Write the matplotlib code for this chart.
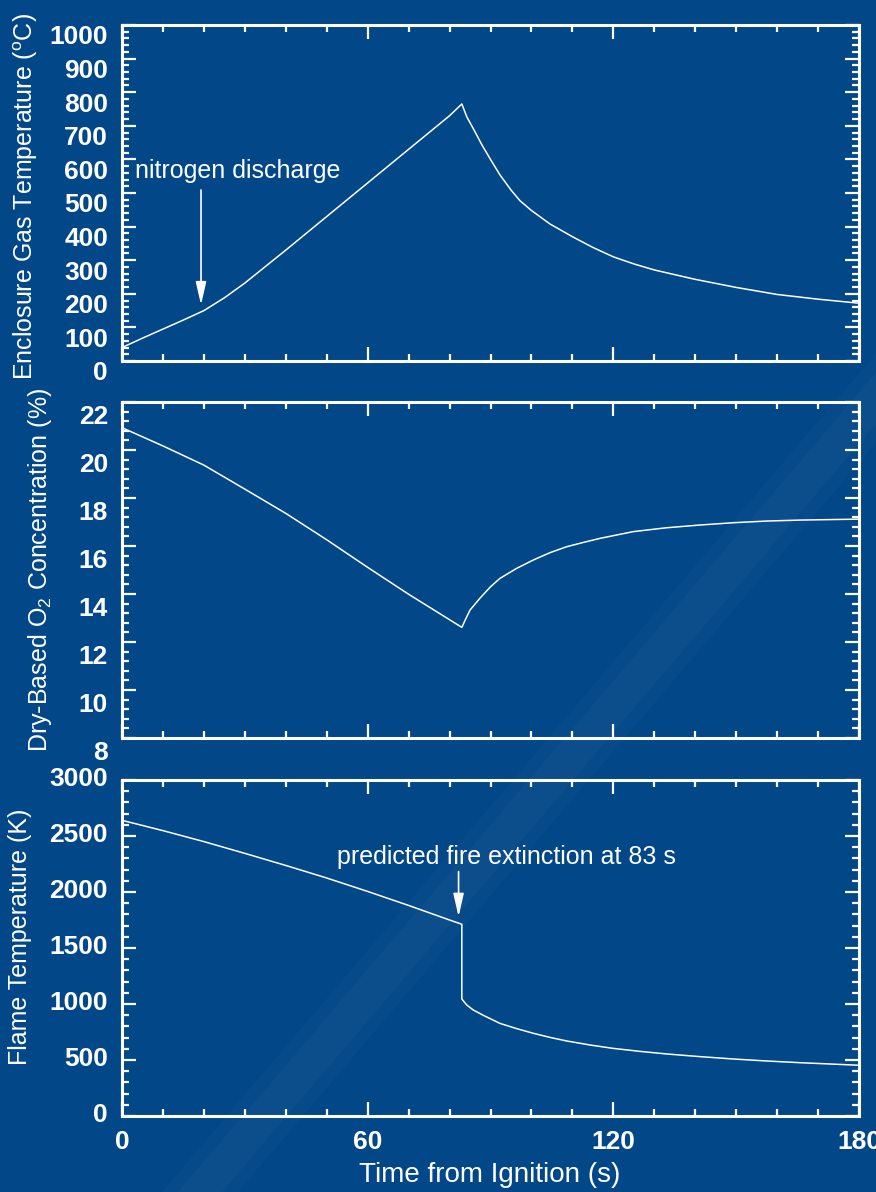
import numpy as np
import matplotlib
matplotlib.use("Agg")
import matplotlib.pyplot as plt
import matplotlib.transforms as mtransforms
from matplotlib.patches import Polygon
from matplotlib.ticker import MultipleLocator

plt.rcParams['font.family'] = ['Liberation Sans', 'DejaVu Sans']
plt.rcParams['mathtext.default'] = 'regular'

# data
gas_t = [0, 5, 10, 15, 20, 25, 30, 40, 50, 60, 70, 80, 83, 84.2, 86, 88, 90,
         92.3, 95, 97.2, 100, 104.5, 110, 115, 120, 125, 130, 140, 150, 160,
         170, 180]
gas_v = [40, 68, 95, 122, 150, 188, 232, 330, 430, 530, 630, 730, 765, 727,
         687, 641, 600, 554, 509, 477, 448, 408, 370, 338, 310, 289, 271, 243,
         219, 198, 184, 172]

o2_t = [0, 10, 20, 30, 40, 50, 60, 70, 83, 84, 85, 87.4, 90, 92.3, 96.4,
        100.5, 104.5, 108.6, 112.7, 116.8, 124.9, 133, 141.2, 149.3, 157.5,
        165.6, 180]
o2_v = [20.93, 20.17, 19.37, 18.37, 17.36, 16.26, 15.11, 13.99, 12.61, 12.98,
        13.33, 13.82, 14.3, 14.65, 15.07, 15.42, 15.72, 15.97, 16.15, 16.32,
        16.6, 16.76, 16.875, 16.97, 17.04, 17.08, 17.12]

flame_t = [0, 10, 20, 30, 40, 50, 60, 70, 80, 83, 83, 84.2, 85.8, 88.3, 92.3,
           96.4, 100.5, 104.5, 108.6, 114.3, 119.9, 126.5, 133, 141.2, 149.3,
           157.5, 165.6, 180]
flame_v = [2640, 2548, 2450, 2345, 2237, 2125, 2005, 1880, 1750, 1712, 1045,
           991, 946, 898, 827, 780, 738, 702, 670, 634, 604, 577, 554, 530,
           509, 491, 476, 453]

x_ticks = [0, 60, 120, 180]
gas_ticks = list(range(0, 1001, 100))
o2_ticks = list(range(8, 23, 2))
flame_ticks = list(range(0, 3001, 500))

bg = '#024787'
W, H = 876, 1192

fig = plt.figure(figsize=(W / 100, H / 100), dpi=100, facecolor=bg)


def px(x, y):
    return x / W, 1 - y / H


# faint diagonal band in the background
for half, a in [(38, 0.02), (22, 0.025)]:
    pts = [px(200 - half, 1192), px(200 + half, 1192),
           px(1215 + half, 0), px(1215 - half, 0)]
    fig.patches.append(Polygon(pts, closed=True, transform=fig.transFigure,
                               facecolor='white', alpha=a, edgecolor='none',
                               zorder=0))

left, right = 122, 859
panels = [(25, 361), (402, 738), (780, 1116)]
axes = []
for top, bot in panels:
    ax = fig.add_axes([left / W, 1 - bot / H, (right - left) / W, (bot - top) / H])
    ax.set_facecolor('none')
    for s in ax.spines.values():
        s.set_color('white')
        s.set_linewidth(2.2)
    ax.set_xlim(0, 180)
    ax.set_xticks(x_ticks)
    ax.xaxis.set_minor_locator(MultipleLocator(10))
    ax.tick_params(which='both', direction='in', top=True, right=True,
                   colors='white', labelcolor='white', labelsize=19)
    ax.tick_params(which='major', length=10, width=1.6, pad=10)
    ax.tick_params(which='minor', length=5, width=1.6)
    ax.tick_params(axis='x', pad=10)
    axes.append(ax)

ax1, ax2, ax3 = axes
lw = 1.1

ax1.plot(gas_t, gas_v, color='white', lw=lw)
ax1.set_ylim(0, 1000)
ax1.set_yticks(gas_ticks)
ax1.yaxis.set_minor_locator(MultipleLocator(20))

ax2.plot(o2_t, o2_v, color='white', lw=lw)
ax2.set_ylim(8, 22)
ax2.set_yticks(o2_ticks)
ax2.yaxis.set_minor_locator(MultipleLocator(0.4))

ax3.plot(flame_t, flame_v, color='white', lw=lw)
ax3.set_ylim(0, 3000)
ax3.set_yticks(flame_ticks)
ax3.yaxis.set_minor_locator(MultipleLocator(100))

for ax in (ax1, ax2):
    ax.tick_params(axis='x', labelbottom=False)

for ax in axes:
    for lbl in ax.get_yticklabels() + ax.get_xticklabels():
        lbl.set_fontweight('bold')


def shift_labels(ax, dy):
    off = mtransforms.ScaledTranslation(0, dy / 100, fig.dpi_scale_trans)
    for lbl in ax.get_yticklabels():
        lbl.set_transform(lbl.get_transform() + off)


shift_labels(ax1, -10)
shift_labels(ax2, -12)
shift_labels(ax3, 3)

# axis titles
fig.text(*px(26, 197), 'Enclosure Gas Temperature ($^{o}$C)', rotation=90,
         ha='center', va='center', color='white', fontsize=18)
fig.text(*px(40, 570), 'Dry-Based O$_2$ Concentration (%)', rotation=90,
         ha='center', va='center', color='white', fontsize=18)
fig.text(*px(20, 937), 'Flame Temperature (K)', rotation=90,
         ha='center', va='center', color='white', fontsize=18)
fig.text(*px(490, 1175), 'Time from Ignition (s)', ha='center', va='center',
         color='white', fontsize=20)

# annotations
arrow = dict(arrowstyle='-|>,head_length=0.7,head_width=0.16', color='white',
             lw=1.2, mutation_scale=20, shrinkA=0, shrinkB=0)
ax1.annotate('', xy=(19.3, 167), xytext=(19.3, 509), arrowprops=arrow)
ax1.text(3.2, 545, 'nitrogen discharge', color='white', fontsize=18,
         ha='left', va='baseline')
ax3.annotate('', xy=(82.2, 1780), xytext=(82.2, 2182), arrowprops=arrow)
ax3.text(52.5, 2250, 'predicted fire extinction at 83 s', color='white',
         fontsize=18, ha='left', va='baseline')

fig.savefig('out.png', dpi=100, facecolor=bg)
